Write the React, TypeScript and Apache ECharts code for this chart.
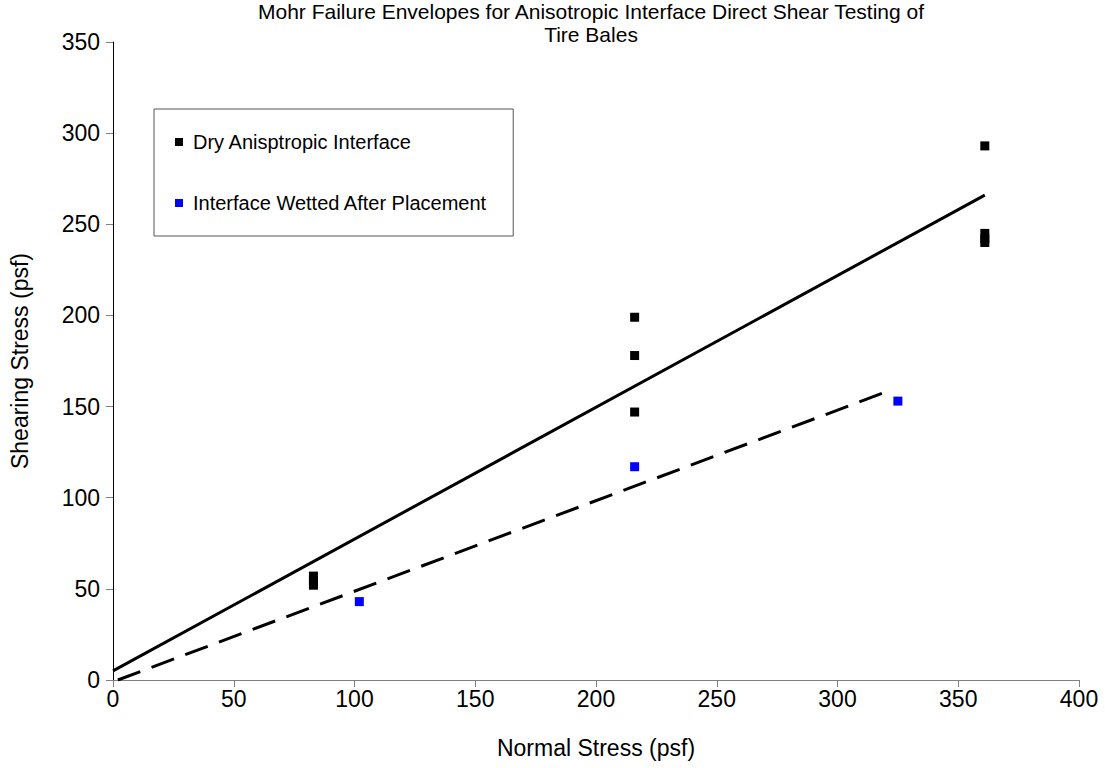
import React, { useEffect, useRef } from "react";
import * as echarts from "echarts";

const titleLines = [
  "Mohr Failure Envelopes for Anisotropic Interface Direct Shear Testing of",
  "Tire Bales",
];
const xAxisName = "Normal Stress (psf)";
const yAxisName = "Shearing Stress (psf)";

const dryName = "Dry Anisptropic Interface";
const wetName = "Interface Wetted After Placement";

const dryPoints: [number, number][] = [
  [83, 57],
  [83, 54],
  [83, 52],
  [216, 199],
  [216, 178],
  [216, 147],
  [361, 293],
  [361, 245],
  [361, 242],
  [361, 240],
];
const wetPoints: [number, number][] = [
  [102, 43],
  [216, 117],
  [325, 153],
];
const dryEnvelope: [number, number][] = [
  [0, 5],
  [361, 266],
];
const wetEnvelope: [number, number][] = [
  [2, 0],
  [320, 158],
];

const FONT = "'Liberation Sans', Arial, sans-serif";

export default function App() {
  const ref = useRef<HTMLDivElement>(null);
  useEffect(() => {
    if (!ref.current) return;
    const chart = echarts.init(ref.current, null, { renderer: "svg" });
    chart.setOption({
      animation: false,
      backgroundColor: "#fff",
      textStyle: { fontFamily: FONT },
      graphic: [
        {
          type: "text",
          x: 591,
          y: 0,
          style: {
            text: titleLines.join("\n"),
            font: `21px ${FONT}`,
            lineHeight: 23,
            fill: "#000",
            align: "center",
            verticalAlign: "top",
          },
        },
      ],
      grid: { left: 112, right: 26, top: 42, bottom: 88, containLabel: false },
      xAxis: {
        type: "value",
        min: 0,
        max: 400,
        interval: 50,
        name: xAxisName,
        nameLocation: "middle",
        nameGap: 56,
        nameTextStyle: { fontSize: 23, color: "#000", fontFamily: FONT },
        axisLine: { show: true, lineStyle: { color: "#808080", width: 1 } },
        axisTick: { show: true, inside: false, length: 7, lineStyle: { color: "#808080" } },
        axisLabel: { fontSize: 23, color: "#000", margin: 7, fontFamily: FONT },
        splitLine: { show: false },
      },
      yAxis: {
        type: "value",
        min: 0,
        max: 350,
        interval: 50,
        name: yAxisName,
        nameLocation: "middle",
        nameGap: 82,
        nameTextStyle: { fontSize: 23, color: "#000", fontFamily: FONT },
        axisLine: { show: true, lineStyle: { color: "#000", width: 1 } },
        axisTick: { show: true, inside: false, length: 7, lineStyle: { color: "#808080" } },
        axisLabel: { fontSize: 23, color: "#000", margin: 13, fontFamily: FONT },
        splitLine: { show: false },
      },
      legend: {
        data: [dryName, wetName],
        orient: "vertical",
        left: 154,
        top: 109,
        padding: [21, 26, 21, 21],
        itemGap: 37,
        itemWidth: 8,
        itemHeight: 8,
        icon: "rect",
        borderColor: "#555",
        borderWidth: 1,
        backgroundColor: "#fff",
        textStyle: { fontSize: 20, color: "#000", fontFamily: FONT, lineHeight: 24, padding: [0, 0, 0, 5] },
      },
      series: [
        {
          type: "line",
          name: "dryLine",
          data: dryEnvelope,
          symbol: "none",
          lineStyle: { color: "#000", width: 3 },
          z: 2,
        },
        {
          type: "line",
          name: "wetLine",
          data: wetEnvelope,
          symbol: "none",
          lineStyle: { color: "#000", width: 3, type: [24, 12] },
          z: 2,
        },
        {
          type: "scatter",
          name: dryName,
          data: dryPoints,
          symbol: "rect",
          symbolSize: 9,
          itemStyle: { color: "#000", opacity: 1 },
          z: 3,
        },
        {
          type: "scatter",
          name: wetName,
          data: wetPoints,
          symbol: "rect",
          symbolSize: 9,
          itemStyle: { color: "#0000ff", opacity: 1 },
          z: 3,
        },
      ],
    });
    return () => chart.dispose();
  }, []);
  return (
    <div
      ref={ref}
      style={{ position: "fixed", left: 0, top: 0, width: 1105, height: 768 }}
    />
  );
}
